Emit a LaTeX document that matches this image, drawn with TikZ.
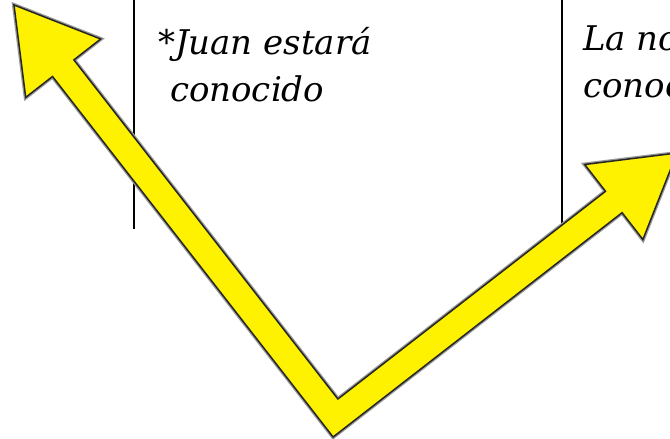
\documentclass[tikz,border=0pt]{standalone}
\usepackage{fontspec}
\setmainfont{DejaVu Serif}
\usepackage{tikz}
\usetikzlibrary{calc,positioning}

\begin{document}
\begin{tikzpicture}[x=1pt,y=-1pt,flecha/.style = {fill=yellow,draw=black!85,line width=1.5pt,line join=miter}]
	\tikzset{texto/.style={inner sep=0pt,align=left,anchor=base west,font=\fontsize{34}{47}\selectfont\itshape}}
	\tikzset{linea/.style={draw=black,line width=2pt}}

	\useasboundingbox (0,0) rectangle (670,439);

	% Lineas
	\coordinate (izqA) at (134,0);
	\coordinate (izqB) at (134,229);
	\coordinate (derA) at (562,0);
	\coordinate (derB) at (562,232);
	\draw[linea] (izqA) -- (izqB);
	\draw[linea] (derA) -- (derB);

	% Textos (base = ultima linea)
	\node[texto] (juan) at (158,101) {*Juan estará\\\hspace*{0.35em}conocido};
	\node[texto] (nota) at (583,97) {La no\\conoc};

	% Flecha
	\draw[black!40,line width=4pt,line join=miter] (333.1,437.0) -- (52.5,76.5) -- (25.7,97.4) -- (14,5) -- (100.7,39.0) -- (73.9,59.9) -- (337.9,399.0) -- (605.5,191.3) -- (584.7,164.5) -- (677,153) -- (642.9,239.5) -- (622.1,212.7) -- cycle;
	\draw[flecha] (333.1,437.0) -- (52.5,76.5) -- (25.7,97.4) -- (14,5) -- (100.7,39.0) -- (73.9,59.9) -- (337.9,399.0) -- (605.5,191.3) -- (584.7,164.5) -- (677,153) -- (642.9,239.5) -- (622.1,212.7) -- cycle;

\end{tikzpicture}
\end{document}
